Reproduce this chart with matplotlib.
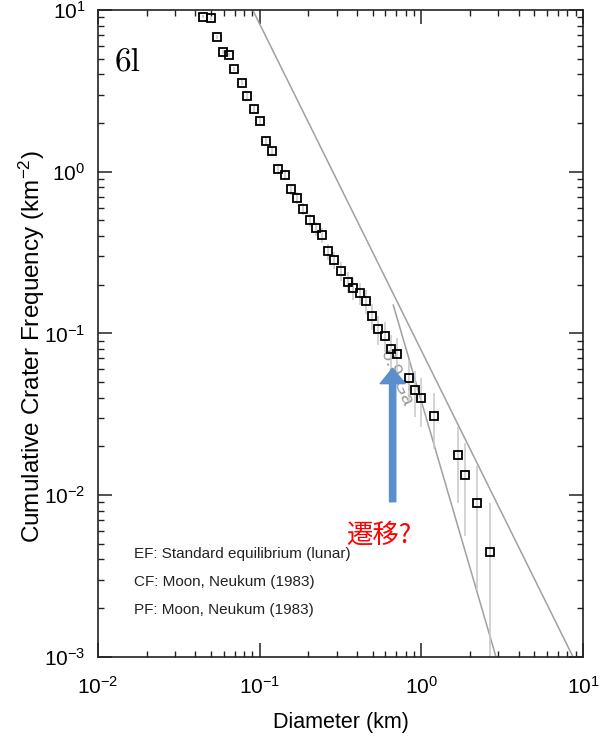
import numpy as np
import matplotlib
matplotlib.use('Agg')
import matplotlib.pyplot as plt

plt.rcParams['font.family'] = ['Liberation Sans', 'DejaVu Sans']
plt.rcParams['mathtext.fontset'] = 'custom'
plt.rcParams['mathtext.rm'] = 'Liberation Sans'
plt.rcParams['mathtext.it'] = 'Liberation Sans:italic'
plt.rcParams['mathtext.bf'] = 'Liberation Sans:bold'

# crater counts
diam = [0.0444, 0.0498, 0.0542, 0.0591, 0.0646, 0.0697, 0.0774, 0.0839, 0.0922, 0.100,
        0.109, 0.1197, 0.1304, 0.144, 0.1562, 0.1709, 0.1862, 0.204, 0.2231, 0.2429,
        0.2658, 0.2903, 0.3172, 0.3504, 0.3795, 0.4155, 0.4547, 0.4932, 0.5418, 0.5934,
        0.6463, 0.707, 0.8425, 0.9137, 1.0, 1.193, 1.693, 1.87, 2.21, 2.648]
freq = [9.09, 8.89, 6.83, 5.52, 5.27, 4.32, 3.55, 2.95, 2.43, 2.07,
        1.554, 1.342, 1.043, 0.958, 0.778, 0.690, 0.588, 0.500, 0.446, 0.404,
        0.322, 0.2855, 0.243, 0.2087, 0.190, 0.1768, 0.1591, 0.128, 0.1064, 0.0969,
        0.0797, 0.0750, 0.0532, 0.0446, 0.0397, 0.0309, 0.01768, 0.0133, 0.00889, 0.00446]
err = [0.200, 0.198, 0.173, 0.156, 0.152, 0.138, 0.125, 0.114, 0.103, 0.0955,
       0.0827, 0.0769, 0.0678, 0.0650, 0.0585, 0.0551, 0.0509, 0.0469, 0.0443, 0.0422,
       0.0377, 0.0355, 0.0327, 0.0303, 0.0289, 0.0279, 0.0265, 0.0237, 0.0217, 0.0207,
       0.0187, 0.0182, 0.0153, 0.0140, 0.0132, 0.0117, 0.0088, 0.0077, 0.0063, 0.00446]

# model curves (end points)
eq_d = [0.0907, 8.67]
eq_n = [10.0, 0.001]
pf_d = [0.671, 2.896]
pf_n = [0.1497, 0.001]

legend_lines = ['EF: Standard equilibrium (lunar)',
                'CF: Moon, Neukum (1983)',
                'PF: Moon, Neukum (1983)']

fig = plt.figure(figsize=(6.07, 7.36), dpi=100)
ax = fig.add_axes([0.1614, 0.1077, 0.799, 0.8786])
ax.set_xscale('log')
ax.set_yscale('log')
ax.set_xlim(0.01, 10)
ax.set_ylim(0.001, 10)

ax.plot(eq_d, eq_n, color='#a0a0a0', lw=1.1)
ax.plot(pf_d, pf_n, color='#a0a0a0', lw=1.1)

d = np.array(diam)
n = np.array(freq)
e = np.array(err)
lo = np.clip(n - e, 1e-6, None)
ax.vlines(d, lo, n + e, color='#c8c8c8', lw=1.1, zorder=2)
ax.plot(d, n, 's', mfc='none', mec='k', ms=6.2, mew=1.3, zorder=3)

# isochron label, partly hidden by the arrow
ax.text(0.704, 0.0533, '0.9 Ga', color='#9a9a9a', fontsize=14,
        rotation=-67, rotation_mode='anchor', ha='center', va='center', zorder=1)

ax.annotate('', xy=(0.665, 0.0608), xytext=(0.665, 0.00909),
            arrowprops=dict(arrowstyle='simple,head_length=1.1,head_width=1.8,tail_width=0.45',
                            mutation_scale=10, color='#5b8fcb', shrinkA=0, shrinkB=0),
            zorder=4)

ax.text(0.579, 0.188, '遷移?', transform=ax.transAxes, color='red', fontsize=19,
        family=['Noto Sans CJK JP', 'DejaVu Sans'], ha='center', va='center')

ax.text(0.035, 0.907, '6l', transform=ax.transAxes, fontsize=24, family='cmr10',
        ha='left', va='baseline')

for i, s in enumerate(legend_lines):
    ax.text(0.0742, 0.1588 - i * 0.0432, s, transform=ax.transAxes, fontsize=11,
            color='#222222', ha='left', va='center')

for sp in ax.spines.values():
    sp.set_color('#222222')
    sp.set_linewidth(1.2)

ax.tick_params(which='both', direction='in', top=True, right=True, color='#222222')
ax.tick_params(which='major', length=10, width=1.1, labelsize=15, pad=9)
ax.tick_params(which='minor', length=4.5, width=1.0)
ax.tick_params(axis='x', which='major', pad=14)

ax.set_xlabel('Diameter (km)', fontsize=15.5, labelpad=10)
ax.set_ylabel('Cumulative Crater Frequency (km$^{-2}$)', fontsize=17.5)
ax.yaxis.set_label_coords(-0.105, 0.479)

fig.savefig('out.png', dpi=100)
